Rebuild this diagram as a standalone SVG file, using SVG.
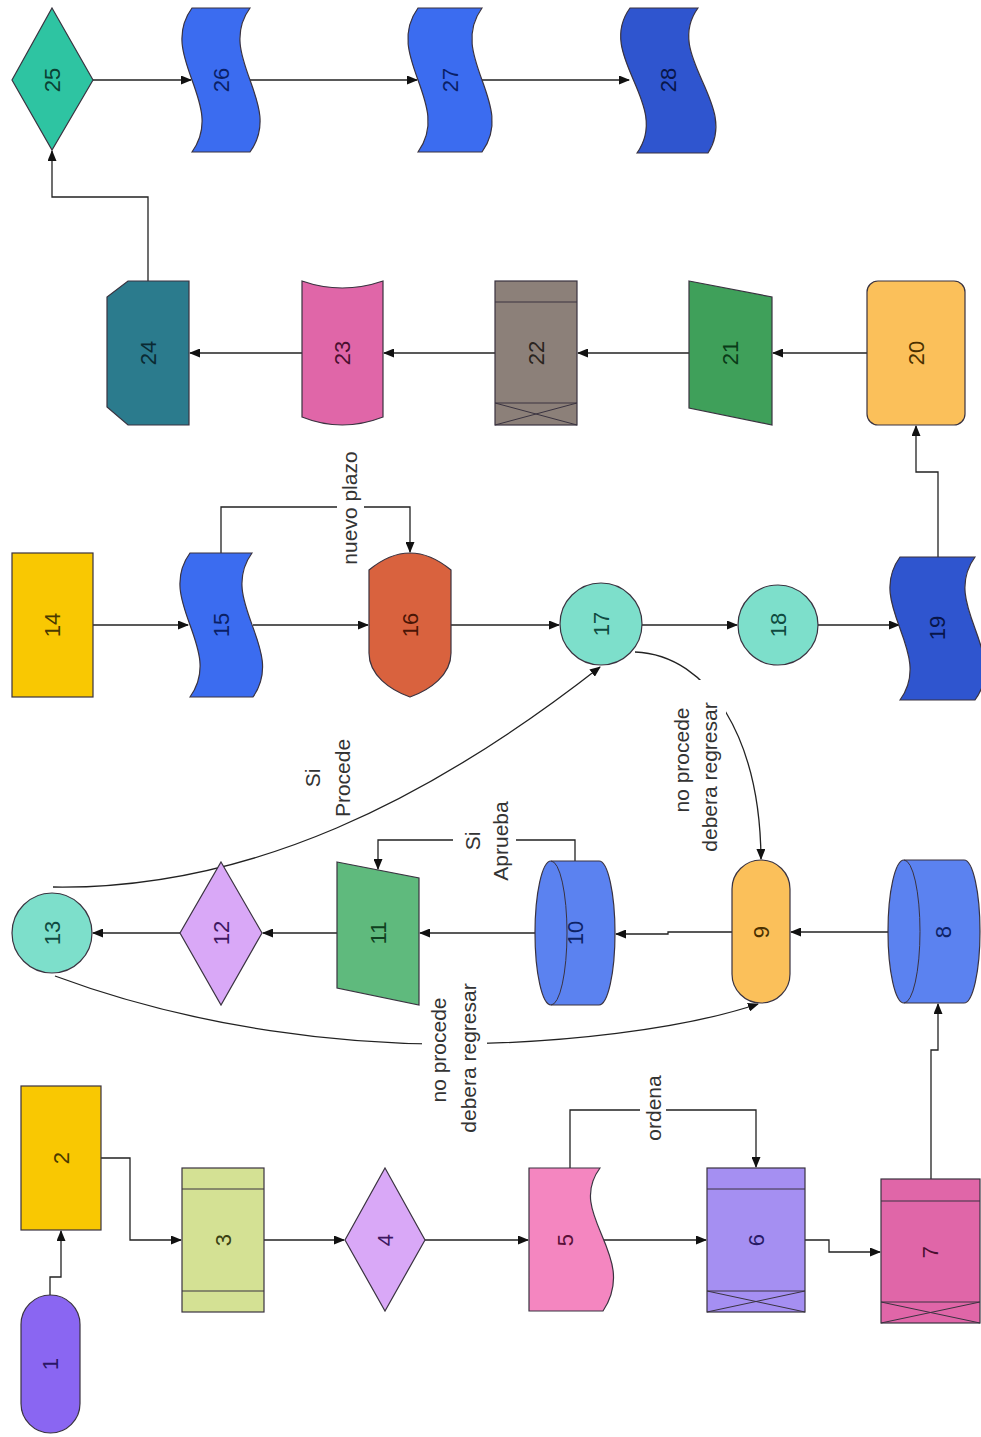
<svg xmlns="http://www.w3.org/2000/svg" width="981" height="1437" viewBox="0 0 981 1437">
<style>
.n{stroke:#3a3340;stroke-width:1.2}
.l{fill:none;stroke:#3a3340;stroke-width:1}
.c{fill:none;stroke:#222;stroke-width:1.3}
.a{marker-end:url(#ah)}
.t{font-family:"Liberation Sans",Arial,sans-serif;font-size:22px;text-anchor:middle}
.lb{font-family:"Liberation Sans",Arial,sans-serif;font-size:21px;fill:#333;text-anchor:middle}
.bg{fill:#fff}
</style>
<defs>
<marker id="ah" markerWidth="11" markerHeight="9" refX="10" refY="4.5" orient="auto" markerUnits="userSpaceOnUse">
<path d="M0,0 L11,4.5 L0,9 Z" fill="#111"/>
</marker>
</defs>
<rect width="981" height="1437" fill="#fff"/>

<g id="connectors">
<path class="c a" d="M50,1295 V1277 H61 V1231"/>
<path class="c a" d="M101,1158 H130 V1240 H181"/>
<path class="c a" d="M264,1240 H344"/>
<path class="c a" d="M425,1240 H528"/>
<path class="c a" d="M570,1168 V1110 H756 V1167"/>
<path class="c a" d="M602,1240 H706"/>
<path class="c a" d="M805,1240 H829 V1252 H880"/>
<path class="c a" d="M931,1179 V1050 H938 V1004"/>
<path class="c a" d="M888,932 H791"/>
<path class="c a" d="M732,932 H668 V934 H616"/>
<path class="c a" d="M535,933 H420"/>
<path class="c a" d="M337,933 H263"/>
<path class="c a" d="M180,933 H93"/>
<path class="c a" d="M575,861 V840 H378 V869"/>
<path class="c a" d="M53,887 C250,890 430,800 600,667"/>
<path class="c a" d="M55,976 C200,1030 350,1045 455,1044 C560,1043 680,1030 758,1004"/>
<path class="c a" d="M635,652 C710,655 760,740 761,859"/>
<path class="c a" d="M93,625 H188"/>
<path class="c a" d="M253,625 H368"/>
<path class="c a" d="M221,553 V507 H410 V552"/>
<path class="c a" d="M451,625 H559"/>
<path class="c a" d="M642,625 H737"/>
<path class="c a" d="M818,625 H899"/>
<path class="c a" d="M938,557 V472 H916 V426"/>
<path class="c a" d="M867,353 H773"/>
<path class="c a" d="M689,353 H578"/>
<path class="c a" d="M495,353 H384"/>
<path class="c a" d="M302,353 H190"/>
<path class="c a" d="M148,281 V197 H52 V151"/>
<path class="c a" d="M93,80 H191"/>
<path class="c a" d="M250,80 H417"/>
<path class="c a" d="M482,80 H629"/>
</g>

<g id="labels">
<rect class="bg" x="640" y="1074" width="26" height="68"/>
<text class="lb" transform="translate(661,1108) rotate(-90)">ordena</text>
<rect class="bg" x="337" y="498" width="27" height="20"/>
<text class="lb" transform="translate(357,508) rotate(-90)">nuevo plazo</text>
<rect class="bg" x="453" y="830" width="63" height="20"/>
<text class="lb" transform="translate(480,841) rotate(-90)">Si</text>
<text class="lb" transform="translate(508,841) rotate(-90)">Aprueba</text>
<text class="lb" transform="translate(320,778) rotate(-90)">Si</text>
<text class="lb" transform="translate(350,778) rotate(-90)">Procede</text>
<rect class="bg" x="422" y="1030" width="65" height="25"/>
<text class="lb" transform="translate(446,1050) rotate(-90)">no procede</text>
<text class="lb" transform="translate(476,1058) rotate(-90)">debera regresar</text>
<rect class="bg" x="668" y="680" width="58" height="45"/>
<text class="lb" transform="translate(689,760) rotate(-90)">no procede</text>
<text class="lb" transform="translate(717,777) rotate(-90)">debera regresar</text>
</g>

<g id="n1"><rect class="n" x="21" y="1295" width="59" height="138" rx="29.5" fill="#8a66f2"/><text class="t" fill="#2a1766" transform="translate(58,1364) rotate(-90)">1</text></g>
<g id="n2"><rect class="n" x="21" y="1086" width="80" height="144" fill="#f9c802"/><text class="t" fill="#4a3a00" transform="translate(69,1158) rotate(-90)">2</text></g>
<g id="n3"><rect class="n" x="182" y="1168" width="82" height="144" fill="#d4e194"/><path class="l" d="M182,1189 H264 M182,1291 H264"/><text class="t" fill="#3a4012" transform="translate(231,1240) rotate(-90)">3</text></g>
<g id="n4"><path class="n" d="M385,1168 L425,1240 L385,1311 L345,1240 Z" fill="#d9a8f7"/><text class="t" fill="#3d1760" transform="translate(393,1240) rotate(-90)">4</text></g>
<g id="n5"><path class="n" d="M529,1168 H600 C565,1215 640,1255 603,1311 H529 Z" fill="#f486c0"/><text class="t" fill="#5a1038" transform="translate(573,1240) rotate(-90)">5</text></g>
<g id="n6"><rect class="n" x="707" y="1168" width="98" height="144" fill="#a58ff2"/><path class="l" d="M707,1189 H805 M707,1291 H805 M707,1291 L805,1312 M707,1312 L805,1291"/><text class="t" fill="#281a66" transform="translate(764,1240) rotate(-90)">6</text></g>
<g id="n7"><rect class="n" x="881" y="1179" width="99" height="144" fill="#e066a8"/><path class="l" d="M881,1201 H980 M881,1302 H980 M881,1302 L980,1323 M881,1323 L980,1302"/><text class="t" fill="#4a0f30" transform="translate(938,1252) rotate(-90)">7</text></g>
<g id="n8"><path class="n" d="M904,860 H964 A16,71.5 0 0 1 964,1003 H904 A16,71.5 0 0 1 904,860 Z" fill="#5b82f0"/><path class="l" d="M904,860 A16,71.5 0 0 1 904,1003"/><text class="t" fill="#0e2366" transform="translate(951,932) rotate(-90)">8</text></g>
<g id="n9"><rect class="n" x="732" y="860" width="58" height="143" rx="29" fill="#fbc05a"/><text class="t" fill="#4a3000" transform="translate(769,932) rotate(-90)">9</text></g>
<g id="n10"><path class="n" d="M551,861 H599 A16,72 0 0 1 599,1005 H551 A16,72 0 0 1 551,861 Z" fill="#5b82f0"/><path class="l" d="M551,861 A16,72 0 0 1 551,1005"/><text class="t" fill="#0e2366" transform="translate(583,933) rotate(-90)">10</text></g>
<g id="n11"><path class="n" d="M337,862 L419,878 L419,1005 L337,988 Z" fill="#5fba7d"/><text class="t" fill="#0f4020" transform="translate(386,933) rotate(-90)">11</text></g>
<g id="n12"><path class="n" d="M221,862 L262,933 L221,1005 L180,933 Z" fill="#d9a8f7"/><text class="t" fill="#3d1760" transform="translate(229,933) rotate(-90)">12</text></g>
<g id="n13"><circle class="n" cx="52" cy="933" r="40" fill="#7ddfcb"/><text class="t" fill="#0f4a40" transform="translate(60,933) rotate(-90)">13</text></g>
<g id="n14"><rect class="n" x="12" y="553" width="81" height="144" fill="#f9c802"/><text class="t" fill="#4a3a00" transform="translate(60,625) rotate(-90)">14</text></g>
<g id="n15"><path class="n" d="M190,553 H252 C217,601 287,649 253,697 H190 C225,649 155,601 190,553 Z" fill="#3b6cf0"/><text class="t" fill="#0a1f66" transform="translate(229,625) rotate(-90)">15</text></g>
<g id="n16"><path class="n" d="M369,570 Q410,536 451,570 V653 C451,675 430,690 410,697 C390,690 369,675 369,653 Z" fill="#d9623e"/><text class="t" fill="#4a1505" transform="translate(418,625) rotate(-90)">16</text></g>
<g id="n17"><circle class="n" cx="601" cy="624" r="41" fill="#7ddfcb"/><text class="t" fill="#0f4a40" transform="translate(609,624) rotate(-90)">17</text></g>
<g id="n18"><circle class="n" cx="778" cy="625" r="40" fill="#7ddfcb"/><text class="t" fill="#0f4a40" transform="translate(786,625) rotate(-90)">18</text></g>
<g id="n19"><path class="n" d="M900,557 H975 C940,605 1010,652 975,700 H900 C935,652 865,605 900,557 Z" fill="#2f55cf"/><text class="t" fill="#08154a" transform="translate(945,628) rotate(-90)">19</text></g>
<g id="n20"><rect class="n" x="867" y="281" width="98" height="144" rx="11" fill="#fbc05a"/><text class="t" fill="#4a3000" transform="translate(924,353) rotate(-90)">20</text></g>
<g id="n21"><path class="n" d="M689,281 L772,297 L772,425 L689,408 Z" fill="#3fa05a"/><text class="t" fill="#0a3a18" transform="translate(738,353) rotate(-90)">21</text></g>
<g id="n22"><rect class="n" x="495" y="281" width="82" height="144" fill="#8c8079"/><path class="l" d="M495,302 H577 M495,403 H577 M495,403 L577,425 M495,425 L577,403"/><text class="t" fill="#2a2420" transform="translate(544,353) rotate(-90)">22</text></g>
<g id="n23"><path class="n" d="M302,281 Q342,295 383,281 V417 Q342,433 302,417 Z" fill="#e066a8"/><text class="t" fill="#4a0f30" transform="translate(350,353) rotate(-90)">23</text></g>
<g id="n24"><path class="n" d="M128,281 H189 V425 H128 L107,407 V297 Z" fill="#2b7b8d"/><text class="t" fill="#0a2a33" transform="translate(156,353) rotate(-90)">24</text></g>
<g id="n25"><path class="n" d="M52,8 L93,80 L52,150 L12,80 Z" fill="#2ec4a2"/><text class="t" fill="#0a4033" transform="translate(60,80) rotate(-90)">25</text></g>
<g id="n26"><path class="n" d="M192,8 H250 C215,56 285,104 250,152 H192 C227,104 157,56 192,8 Z" fill="#3b6cf0"/><text class="t" fill="#0a1f66" transform="translate(229,80) rotate(-90)">26</text></g>
<g id="n27"><path class="n" d="M418,8 H482 C447,56 517,104 482,152 H418 C453,104 383,56 418,8 Z" fill="#3b6cf0"/><text class="t" fill="#0a1f66" transform="translate(458,80) rotate(-90)">27</text></g>
<g id="n28"><path class="n" d="M630,8 H698 C663,56 740,104 708,153 H637 C672,104 595,56 630,8 Z" fill="#2f55cf"/><text class="t" fill="#08154a" transform="translate(676,80) rotate(-90)">28</text></g>
</svg>
